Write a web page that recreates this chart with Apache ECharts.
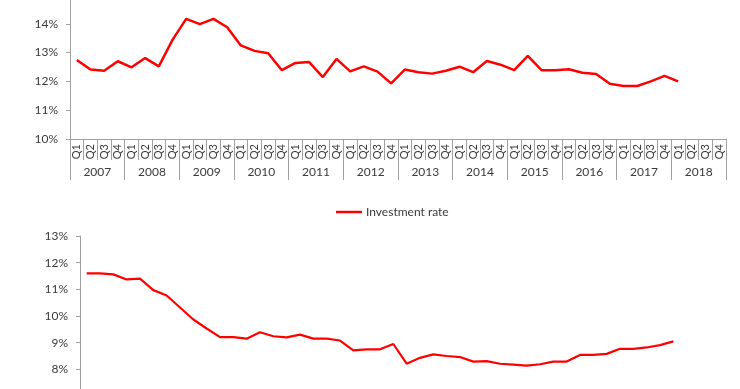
<!DOCTYPE html>
<html><head><meta charset="utf-8">
<script src="https://cdn.jsdelivr.net/npm/echarts@6/dist/echarts.min.js"></script>
<style>html,body{margin:0;padding:0;background:#fff}#c{width:740px;height:389px}</style>
</head><body><div id="c"></div>
<script>
const years = ['2007','2008','2009','2010','2011','2012','2013','2014','2015','2016','2017','2018'];
const quarterNames = ['Q1','Q2','Q3','Q4'];
const quarters = [];
years.forEach(y => quarterNames.forEach(q => quarters.push(y + ' ' + q)));
const topValues = [12.74,12.41,12.37,12.70, 12.49,12.81,12.52,13.44, 14.17,13.99,14.17,13.88,
  13.25,13.06,12.98,12.39, 12.64,12.67,12.15,12.78, 12.35,12.52,12.34,11.93,
  12.41,12.32,12.27,12.37, 12.51,12.32,12.71,12.58, 12.39,12.89,12.39,12.39,
  12.42,12.30,12.26,11.92, 11.84,11.84,12.00,12.19, 12.00];
const investmentRate = [11.60,11.60,11.56,11.37, 11.40,10.97,10.77,10.32, 9.87,9.53,9.21,9.21,
  9.15,9.39,9.24,9.20, 9.30,9.15,9.15,9.08, 8.71,8.75,8.75,8.95,
  8.21,8.43,8.56,8.50, 8.46,8.29,8.31,8.21, 8.18,8.14,8.19,8.29,
  8.29,8.54,8.54,8.58, 8.77,8.77,8.82,8.91, 9.05];
const topTicks = {min:10, max:15, interval:1};
const bottomTicks = {min:7, max:13, interval:1};

const axisGray = '#a0a0a0';
const textCol = '#3a3a3a';
const font = 'Lato, "Open Sans", sans-serif';
const chart = echarts.init(document.getElementById('c'));
chart.setOption({
  animation:false,
  legend:{data:['Investment rate'], left:331, top:201, icon:'rect', itemWidth:26, itemHeight:2.5, itemGap:6,
    textStyle:{fontSize:12, color:textCol, fontFamily:font, padding:[0,0,0,-1]}},
  grid:[
    {left:70, right:14, top:-5, bottom:250, outerBoundsMode:'none', containLabel:false},
    {left:80, right:20, top:236, bottom:-7, outerBoundsMode:'none', containLabel:false}
  ],
  xAxis:[
    {type:'category', gridIndex:0, data:quarters, boundaryGap:true,
      axisLine:{show:true, lineStyle:{color:axisGray}},
      axisTick:{show:true, length:21, interval:0, lineStyle:{color:axisGray}},
      axisLabel:{interval:0, rotate:90, margin:5, fontSize:11, color:textCol, fontFamily:font,
        formatter:v => v.split(' ')[1]}},
    {type:'category', gridIndex:0, data:years, position:'bottom', offset:21, boundaryGap:true,
      axisLine:{show:false},
      axisTick:{show:true, length:20, interval:0, lineStyle:{color:axisGray}},
      axisLabel:{interval:0, margin:6, fontSize:12, color:textCol, fontFamily:font}},
    {type:'category', gridIndex:1, data:quarters, boundaryGap:true,
      axisLine:{lineStyle:{color:axisGray}}, axisTick:{show:false}, axisLabel:{show:false}}
  ],
  yAxis:[
    {type:'value', gridIndex:0, min:topTicks.min, max:topTicks.max, interval:topTicks.interval,
      splitLine:{show:false}, axisLine:{show:true, lineStyle:{color:axisGray}},
      axisTick:{show:true, length:4, lineStyle:{color:axisGray}},
      axisLabel:{formatter:'{value}%', fontSize:12, color:textCol, fontFamily:font, margin:12}},
    {type:'value', gridIndex:1, min:bottomTicks.min, max:bottomTicks.max, interval:bottomTicks.interval,
      splitLine:{show:false}, axisLine:{show:true, lineStyle:{color:axisGray}},
      axisTick:{show:true, length:4, lineStyle:{color:axisGray}},
      axisLabel:{formatter:'{value}%', fontSize:12, color:textCol, fontFamily:font, margin:12}}
  ],
  series:[
    {name:'Top rate', type:'line', xAxisIndex:0, yAxisIndex:0, data:topValues, symbol:'none',
      lineStyle:{color:'#ff0000', width:2.5}, itemStyle:{color:'#ff0000'}},
    {name:'Investment rate', type:'line', xAxisIndex:2, yAxisIndex:1, data:investmentRate, symbol:'none',
      lineStyle:{color:'#ff0000', width:2.2}, itemStyle:{color:'#ff0000'}}
  ]
});
</script></body></html>
